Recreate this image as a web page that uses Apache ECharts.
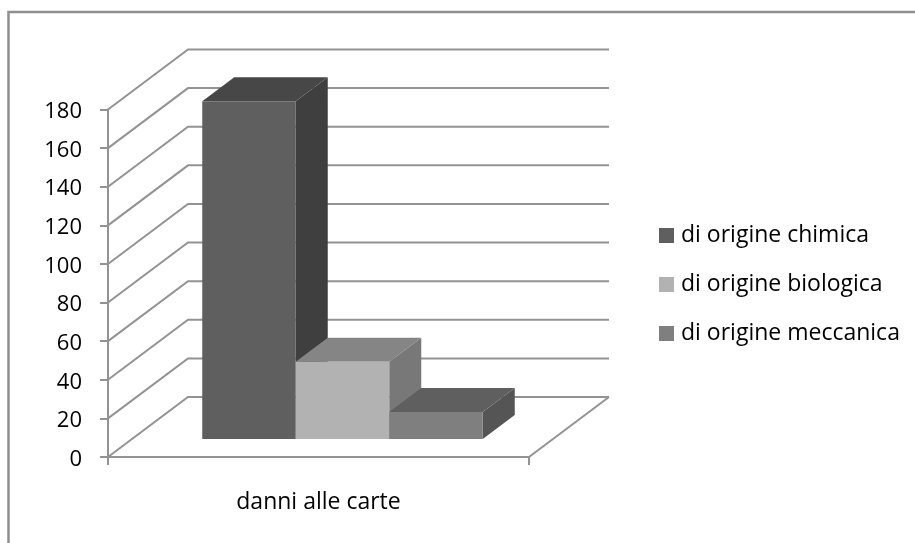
<!DOCTYPE html>
<html><head><meta charset="utf-8">
<style>html,body{margin:0;padding:0;background:#fff}#c{width:915px;height:543px}</style>
<script src="https://cdn.jsdelivr.net/npm/echarts@6/dist/echarts.min.js"></script>
</head><body><div id="c"></div>
<script>
const categories = ['danni alle carte'];
const seriesNames = ['di origine chimica', 'di origine biologica', 'di origine meccanica'];
const chimica = [175];
const biologica = [40];
const meccanica = [14];
const yTicks = [0,20,40,60,80,100,120,140,160,180];
const FONT = '"Open Sans","Noto Sans",sans-serif';
const LINE = '#939393';

const WALL = [80, -60];      // full floor depth (px)
const BAR_FRONT = 0.3;       // fraction of floor depth where bars' front sits
const BAR_DEPTH = [32, -24]; // bar depth (px)
const BAR_W = 93.5 / 421;    // bar width as share of band
const faces = [
  {front:'#5f5f5f', top:'#474747', side:'#3f3f3f'},
  {front:'#b2b2b2', top:'#858585', side:'#787878'},
  {front:'#7f7f7f', top:'#5f5f5f', side:'#555555'}
];
const poly = (pts, fill) => ({type:'polygon', shape:{points:pts}, style:{fill}});

function renderWalls(params, api){
  const lines = yTicks.map(v => {
    const a = api.coord([0, v]);
    const size = api.size([1, 0])[0];
    const left = a[0] - size/2;
    const b = [left + WALL[0], a[1] + WALL[1]];
    const c = [b[0] + size, b[1]];
    return {type:'polyline', shape:{points:[[left,a[1]], b, c]},
      style:{fill:null, stroke:LINE, lineWidth:2}};
  });
  const a0 = api.coord([0,0]);
  const size = api.size([1,0])[0];
  const r = a0[0] + size/2;
  lines.push({type:'line', shape:{x1:r,y1:a0[1],x2:r+WALL[0],y2:a0[1]+WALL[1]},
    style:{stroke:LINE, lineWidth:2}});
  return {type:'group', children:lines};
}

function makeBar(idx){
  return function(params, api){
    const v = api.value(1);
    const base = api.coord([0, 0]);
    const top = api.coord([0, v]);
    const band = api.size([1, 0])[0];
    const w = band * BAR_W;
    const cx = base[0] + WALL[0]*BAR_FRONT;
    const x0 = cx - w*1.5 + idx*w, x1 = x0 + w;
    const yB = base[1] + WALL[1]*BAR_FRONT, yT = top[1] + WALL[1]*BAR_FRONT;
    const dx = BAR_DEPTH[0], dy = BAR_DEPTH[1], f = faces[idx];
    return {type:'group', children:[
      poly([[x1,yB],[x1+dx,yB+dy],[x1+dx,yT+dy],[x1,yT]], f.side),
      poly([[x0,yT],[x1,yT],[x1+dx,yT+dy],[x0+dx,yT+dy]], f.top),
      poly([[x0,yB],[x1,yB],[x1,yT],[x0,yT]], f.front)
    ]};
  };
}

const values = [chimica, biologica, meccanica];
const barSeries = seriesNames.map((name, i) => ({
  name, type:'custom', coordinateSystem:'cartesian2d',
  itemStyle:{color:faces[i].front},
  renderItem:makeBar(i),
  encode:{x:0,y:1},
  data:categories.map((c,j)=>[c, values[i][j]]),
  silent:true, z:3
}));

const chart = echarts.init(document.getElementById('c'), null, {renderer:'canvas'});
chart.setOption({
  animation:false,
  backgroundColor:'#fff',
  grid:{left:108, top:109.5, width:421, height:347.5, containLabel:false},
  xAxis:{type:'category', data:categories,
    axisLine:{show:true, lineStyle:{color:LINE, width:2}},
    axisTick:{show:true, length:8, alignWithLabel:false, lineStyle:{color:LINE, width:2}},
    axisLabel:{color:'#000', fontSize:23, fontFamily:FONT, margin:34},
    splitLine:{show:false}},
  yAxis:{type:'value', min:0, max:180, interval:20,
    axisLine:{show:true, lineStyle:{color:LINE, width:2}},
    axisTick:{show:true, length:8, lineStyle:{color:LINE, width:2}},
    axisLabel:{color:'#000', fontSize:22, fontFamily:FONT, margin:26, verticalAlign:'top', lineHeight:5},
    splitLine:{show:false}},
  legend:{orient:'vertical', left:654, top:219, itemWidth:15, itemHeight:15, itemGap:26,
    icon:'rect', selectedMode:false, data:seriesNames,
    textStyle:{color:'#000', fontSize:23, fontFamily:FONT, padding:[0,0,0,2]}},
  graphic:[{type:'polyline', silent:true, z:0,
    shape:{points:[[8.5,543],[8.5,12],[915,12]]},
    style:{fill:null, stroke:'#8f8f8f', lineWidth:2.5}}],
  series:[
    {type:'custom', name:'pareti', coordinateSystem:'cartesian2d', renderItem:renderWalls,
     encode:{x:0,y:1}, data:[[categories[0],0]], silent:true, z:1},
    ...barSeries
  ]
});
</script></body></html>
